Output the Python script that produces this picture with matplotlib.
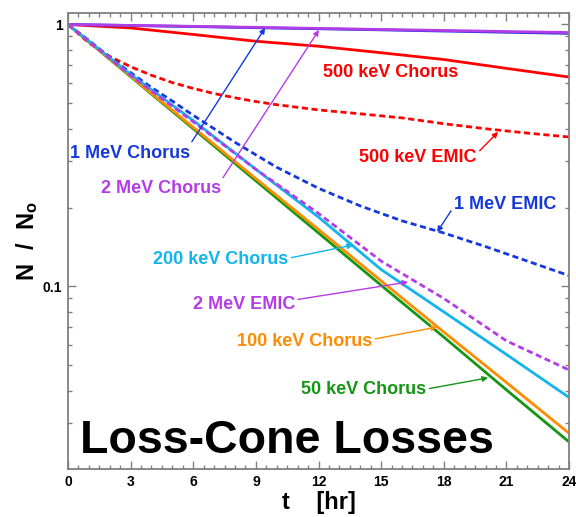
import matplotlib
matplotlib.use("Agg")
import matplotlib.pyplot as plt
from matplotlib.ticker import MultipleLocator, FixedLocator, FuncFormatter, NullFormatter

plt.rcParams['font.family'] = ['Liberation Sans', 'DejaVu Sans']
plt.rcParams['font.weight'] = 'bold'
plt.rcParams['mathtext.fontset'] = 'custom'
plt.rcParams['mathtext.rm'] = 'Liberation Sans:bold'
plt.rcParams['mathtext.bf'] = 'Liberation Sans:bold'
plt.rcParams['mathtext.it'] = 'Liberation Sans:bold'

# time grid [hr]
hours = [0, 3, 6, 9, 12, 15, 18, 21, 24]
hours_fine = [0, 1, 2, 3, 4, 5, 6, 7, 8, 9, 10, 12, 14, 16, 18, 20, 22, 24]

# N / No
chorus_50kev = [1.0, 0.632, 0.400, 0.253, 0.160, 0.101, 0.0641, 0.0403, 0.0255]
chorus_100kev = [1.0, 0.635, 0.405, 0.258, 0.165, 0.105, 0.067, 0.043, 0.0275]
chorus_200kev = [1.0, 0.645, 0.43, 0.28, 0.184, 0.116, 0.080, 0.055, 0.0377]
emic_2mev = [1.0, 0.64, 0.425, 0.28, 0.19, 0.125, 0.090, 0.062, 0.048]
chorus_500kev = [1.0, 0.97, 0.916, 0.863, 0.826, 0.78, 0.735, 0.68, 0.63]
chorus_1mev = [1.0, 0.991, 0.982, 0.972, 0.963, 0.954, 0.944, 0.934, 0.925]
chorus_2mev = [1.0, 0.992, 0.984, 0.975, 0.966, 0.957, 0.949, 0.940, 0.932]
emic_500kev = [1.0, 0.85, 0.755, 0.69, 0.64, 0.60, 0.57, 0.545, 0.525, 0.508, 0.494,
               0.472, 0.456, 0.44, 0.418, 0.40, 0.385, 0.372]
emic_1mev = [1.0, 0.87, 0.75, 0.655, 0.575, 0.51, 0.45, 0.40, 0.355, 0.318, 0.285,
             0.237, 0.203, 0.178, 0.16, 0.142, 0.125, 0.11]

red = '#ff0000'
blue = '#1438dc'
purple = '#b43ce6'
cyan = '#12b4ec'
orange = '#ff8c00'
green = '#149614'

fig = plt.figure(figsize=(5.76, 5.17), dpi=100)
ax = fig.add_axes([0.118, 0.0928, 0.870, 0.882])

lw = 2.0
dash = (2.2, 1.3)
ax.plot(hours_fine, emic_500kev, color=red, lw=lw, dashes=dash)
ax.plot(hours, chorus_500kev, color=red, lw=lw)
ax.plot(hours_fine, emic_1mev, color=blue, lw=lw, dashes=dash)
ax.plot(hours, chorus_1mev, color=blue, lw=lw)
ax.plot(hours, chorus_2mev, color=purple, lw=lw)
ax.plot(hours, chorus_50kev, color=green, lw=lw)
ax.plot(hours, chorus_100kev, color=orange, lw=lw)
ax.plot(hours, chorus_200kev, color=cyan, lw=lw)
ax.plot(hours, emic_2mev, color=purple, lw=lw, dashes=dash)

ax.set_yscale('log')
ax.set_xlim(0, 24)
ax.set_ylim(0.0201, 1.106)

ax.xaxis.set_major_locator(MultipleLocator(3))
ax.xaxis.set_minor_locator(MultipleLocator(0.5))
ax.yaxis.set_major_locator(FixedLocator([0.1, 1]))
ax.yaxis.set_major_formatter(FuncFormatter(lambda v, p: '%g' % v))
ax.yaxis.set_minor_locator(FixedLocator([0.02, 0.03, 0.04, 0.05, 0.06, 0.07, 0.08, 0.09,
                                         0.2, 0.3, 0.4, 0.5, 0.6, 0.7, 0.8, 0.9]))
ax.yaxis.set_minor_formatter(NullFormatter())
ax.tick_params(which='both', direction='in', top=True, right=True, color='#808080',
               labelsize=10, pad=4)
ax.tick_params(which='major', length=6, width=1)
ax.tick_params(which='minor', length=3, width=1)
for s in ax.spines.values():
    s.set_color('#808080')
    s.set_linewidth(1.3)

ax.set_xlabel('t    [hr]', fontsize=17, fontweight='bold', labelpad=2)
ax.set_ylabel(r'$\mathbf{N\ \ /\ \ N_o}$', fontsize=17, labelpad=2)


def label(text, xy, xytext, color, relpos):
    ax.annotate(text, xy=xy, xytext=xytext, color=color, fontsize=13, fontweight='bold',
                ha='center', va='center',
                arrowprops=dict(arrowstyle='-|>', color=color, lw=1, shrinkA=0, shrinkB=0,
                                mutation_scale=8, relpos=relpos))


label('1 MeV Chorus', (9.44, 0.970), (2.97, 0.323), blue, (1, 1))
label('2 MeV Chorus', (12.02, 0.953), (4.46, 0.2356), purple, (1, 1))
label('500 keV EMIC', (20.6, 0.389), (16.77, 0.312), red, (1, 0.7))
label('1 MeV EMIC', (17.68, 0.1614), (20.93, 0.2047), blue, (0, 0.4))
label('200 keV Chorus', (13.65, 0.144), (7.33, 0.1263), cyan, (1, 0.6))
label('2 MeV EMIC', (16.29, 0.104), (8.43, 0.085), purple, (1, 0.8))
label('100 keV Chorus', (17.68, 0.070), (11.35, 0.0619), orange, (1, 0.6))
label('50 keV Chorus', (20.12, 0.0448), (14.18, 0.0406), green, (1, 0.5))
ax.text(15.47, 0.656, '500 keV Chorus', color=red, fontsize=13, fontweight='bold',
        ha='center', va='center')
ax.text(0.575, 0.0231, 'Loss-Cone Losses', color='black', fontsize=33.5, fontweight='bold',
        ha='left', va='baseline')

fig.savefig('out.png', dpi=100)
